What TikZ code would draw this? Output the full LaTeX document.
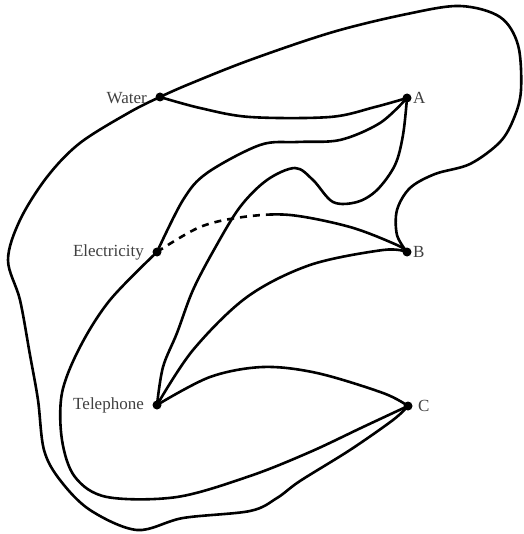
\documentclass[tikz,border=0pt]{standalone}
\usepackage{fontspec}
\setmainfont{Liberation Serif}
\begin{document}
\begin{tikzpicture}[x=1pt,y=-1pt,
  edge/.style={line width=2.6pt, line join=round, line cap=round},
  dot/.style={circle, fill=black, inner sep=0pt, minimum size=9pt},
  lbl/.style={font=\fontsize{17}{19}\selectfont, text=black!75, inner sep=0pt}]
\useasboundingbox (0,0) rectangle (523,534);
\node[dot] (W) at (160,97) {};
\node[dot] (A) at (407,98) {};
\node[dot] (E) at (157,252) {};
\node[dot] (B) at (407,252) {};
\node[dot] (T) at (157,405) {};
\node[dot] (C) at (408,406) {};
\node[lbl, anchor=east] (lW) at (147,98) {Water};
\node[lbl, anchor=west] (lA) at (413,98) {A};
\node[lbl, anchor=east] (lE) at (144,252) {Electricity};
\node[lbl, anchor=west] (lB) at (413,252) {B};
\node[lbl, anchor=east] (lT) at (144,405) {Telephone};
\node[lbl, anchor=west] (lC) at (418,406) {C};
% Water - A
\draw[edge] plot[smooth, tension=0.55] coordinates {(W.center) (200,108) (250,117) (330,117) (375,107) (A.center)};
% Water - B (outer top loop)
\draw[edge] plot[smooth, tension=0.55] coordinates {(W.center) (187,85) (250,60) (333,32) (407,14) (460,6) (500,17) (518,45) (521,90) (514,118) (500,142) (470,164) (435,174) (410,188) (397,210) (397,235) (B.center)};
% Water - C (outer left loop)
\draw[edge] plot[smooth, tension=0.55] coordinates {(W.center) (130,112) (80,143) (47,177) (20,220) (8,260) (20,300) (30,355) (38,400) (44,450) (60,480) (90,510) (137,530) (183,518) (250,511) (277,498) (300,481) (350,450) (393,420) (C.center)};
% Electricity - C
\draw[edge] plot[smooth, tension=0.55] coordinates {(E.center) (110,300) (80,347) (62,393) (62,440) (75,477) (107,497) (177,497) (250,476) (310,452) (363,427) (C.center)};
% Electricity - A
\draw[edge] plot[smooth, tension=0.55] coordinates {(E.center) (183,200) (207,173) (260,145) (297,142) (340,140) (380,123) (A.center)};
% Electricity - B (partly dashed)
\draw[edge, line cap=butt, dash pattern=on 7pt off 6pt on 7pt off 6pt on 7pt off 6pt on 7pt off 6pt on 7pt off 6pt on 7pt off 6pt on 7pt off 6pt on 7pt off 6pt on 7pt off 6pt on 400pt off 0pt] plot[smooth, tension=0.55] coordinates {(E.center) (200,227) (243,217) (290,215) (350,227) (397,245) (B.center)};
% Telephone - A
\draw[edge] plot[smooth, tension=0.55] coordinates {(T.center) (163,367) (177,333) (193,290) (215,248) (240,207) (267,180) (295,168) (313,180) (333,202) (357,202) (377,190) (395,165) (403,135) (A.center)};
% Telephone - B
\draw[edge] plot[smooth, tension=0.55] coordinates {(T.center) (193,350) (247,297) (310,265) (383,250) (B.center)};
% Telephone - C
\draw[edge] plot[smooth, tension=0.55] coordinates {(T.center) (210,377) (263,367) (317,373) (383,393) (C.center)};
\end{tikzpicture}
\end{document}
